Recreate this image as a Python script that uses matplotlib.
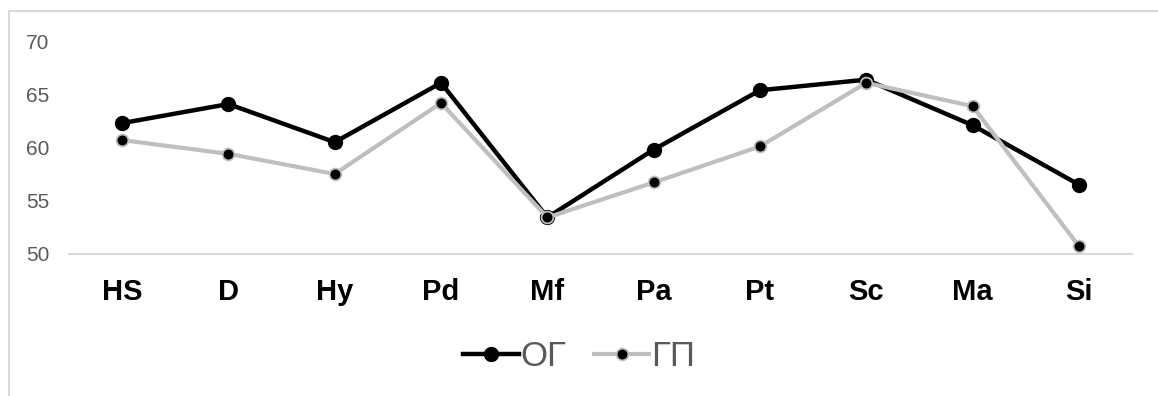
import matplotlib.pyplot as plt
from matplotlib.lines import Line2D
from matplotlib import font_manager

scales = ["HS", "D", "Hy", "Pd", "Mf", "Pa", "Pt", "Sc", "Ma", "Si"]
og_values = [62.3, 64.1, 60.5, 66.1, 53.4, 59.8, 65.4, 66.4, 62.1, 56.5]
gp_values = [60.7, 59.4, 57.5, 64.2, 53.4, 56.7, 60.1, 66.1, 63.9, 50.7]
series_names = ["ОГ", "ГП"]
y_ticks = [50, 55, 60, 65, 70]

installed = {f.name for f in font_manager.fontManager.ttflist}
narrow = "Liberation Sans Narrow" if "Liberation Sans Narrow" in installed else "Liberation Sans"
plt.rcParams["font.family"] = [narrow, "DejaVu Sans"]

W, H = 1158, 396
fig = plt.figure(figsize=(W / 100, H / 100), dpi=100)
ax = fig.add_axes([69 / W, 1 - 253.5 / H, (1132 - 69) / W, (253.5 - 41.5) / H])

x = range(len(scales))
ax.plot(x, og_values, color="black", lw=3.2, marker="o", ms=10,
        mfc="black", mec="black", label=series_names[0], zorder=3)
ax.plot(x, gp_values, color="#bfbfbf", lw=3.0, marker="o", ms=8.5,
        mfc="black", mec="#bfbfbf", mew=1.3, label=series_names[1], zorder=4)

ax.set_xlim(-0.5, len(scales) - 0.5)
ax.set_ylim(50, 70)
ax.set_yticks(y_ticks)
ax.set_xticks(list(x))
ax.set_xticklabels(scales, fontsize=21, fontweight="bold", color="black")
ax.tick_params(axis="y", labelsize=15, labelcolor="#595959", length=0, pad=14)
ax.tick_params(axis="x", length=0, pad=18)

for side in ("top", "right", "left"):
    ax.spines[side].set_visible(False)
ax.spines["bottom"].set_color("#d9d9d9")
ax.spines["bottom"].set_linewidth(1.5)

leg = fig.legend(loc="center", bbox_to_anchor=(0.5, 1 - 357 / H), ncol=2,
                 frameon=False, fontsize=25, handlelength=1.6,
                 handletextpad=0.05, columnspacing=0.8)
for t in leg.get_texts():
    t.set_color("#595959")

# outer chart frame (left and top edges)
fig.add_artist(Line2D([8.5 / W, 8.5 / W], [0, 1 - 11 / H], transform=fig.transFigure,
                      color="#d9d9d9", lw=1.5))
fig.add_artist(Line2D([8.5 / W, 1], [1 - 11 / H, 1 - 11 / H], transform=fig.transFigure,
                      color="#d9d9d9", lw=1.5))

fig.savefig("out.png", dpi=100)
